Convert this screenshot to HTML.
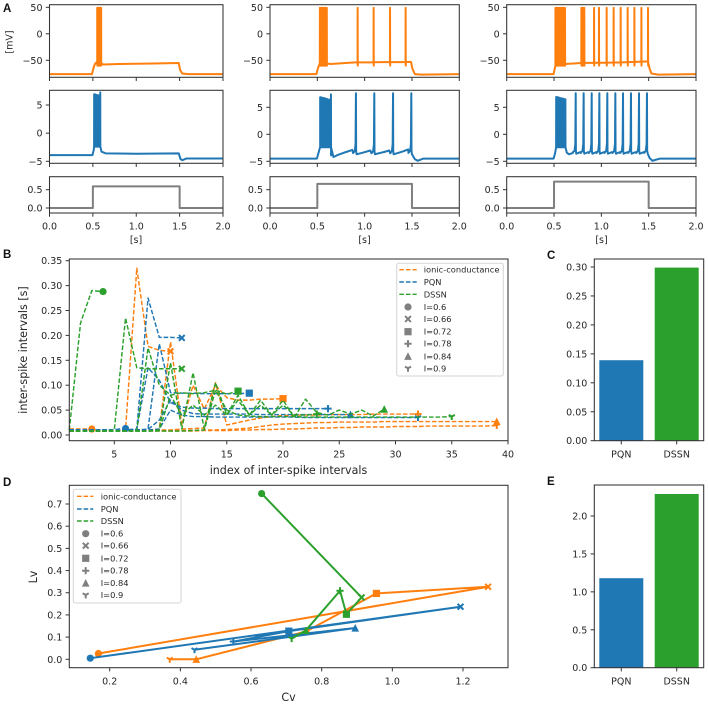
<!DOCTYPE html>
<html lang="en">
<head>
<meta charset="utf-8">
<title>Spiking responses and inter-spike interval comparison</title>
<style>
html,body{margin:0;padding:0;background:#fff;width:708px;height:705px;overflow:hidden}
svg{display:block;font-family:"DejaVu Sans","Liberation Sans",sans-serif;fill:#262626}
.panel{font-family:"Liberation Sans",sans-serif;font-weight:bold;font-size:11.5px;fill:#111}
.title{font-size:11.1px}
</style>
</head>
<body>
<svg id="figure" xmlns="http://www.w3.org/2000/svg" width="708" height="705" viewBox="0 0 708 705">
<rect width="708" height="705" fill="#fff"/>
<text class="panel" x="3" y="12">A</text>
<text class="panel" x="3" y="258">B</text>
<text class="panel" x="547" y="259">C</text>
<text class="panel" x="3" y="486">D</text>
<text class="panel" x="547" y="485">E</text>
<text class="title" transform="translate(12.5,42) rotate(-90)" text-anchor="middle" style="font-size:9.5px">[mV]</text>
<text class="title" x="136" y="243" text-anchor="middle" style="font-size:9.5px">[s]</text>
<text class="title" x="364.5" y="243" text-anchor="middle" style="font-size:9.5px">[s]</text>
<text class="title" x="601.5" y="243" text-anchor="middle" style="font-size:9.5px">[s]</text>
<text class="title" x="288.5" y="474" text-anchor="middle">index of inter-spike intervals</text>
<text class="title" transform="translate(27,350) rotate(-90)" text-anchor="middle">inter-spike intervals [s]</text>
<text class="title" x="288.5" y="701" text-anchor="middle">Cv</text>
<text class="title" transform="translate(37,577) rotate(-90)" text-anchor="middle">Lv</text>
</svg>
<script>
/* ---------- Panel A data: [time s, value] slow traces and spike times ---------- */
const orangeBase1 = [[0,-76],[0.49,-76],[0.505,-66],[0.52,-58],[0.55,-52],[0.6,-56],[0.62,-58],[0.8,-57],[1.2,-56],[1.49,-55],[1.505,-68],[1.53,-75],[1.6,-76],[2,-76]];
const orangeBase2 = [[0,-76],[0.49,-76],[0.505,-66],[0.525,-56],[0.6,-56],[0.64,-57],[0.9,-54],[1.2,-53.5],[1.49,-53],[1.505,-66],[1.53,-76],[1.6,-77],[2,-76]];
const orangeBase3 = [[0,-76],[0.495,-76],[0.51,-64],[0.525,-56],[0.62,-57],[0.8,-55],[1.2,-54],[1.49,-52],[1.51,-66],[1.53,-75],[1.6,-77],[2,-76]];
const orangeSpikes1 = [0.55,0.555,0.56,0.565,0.57,0.575,0.58,0.585,0.59,0.595];
const orangeSpikes2 = [0.527,0.533,0.539,0.545,0.551,0.557,0.563,0.569,0.575,0.581,0.587,0.593,0.6,0.926,1.095,1.268,1.433];
const orangeSpikes3 = [0.515,0.522,0.53,0.536,0.544,0.55,0.558,0.564,0.572,0.578,0.586,0.592,0.6,0.608,0.616,0.789,0.795,0.801,0.807,0.813,0.82,0.923,0.975,1.056,1.13,1.204,1.278,1.349,1.423,1.493];
const orangePeak = 49;
const orangeTrough = -60;

const blueBase1 = [[0,-3.9],[0.495,-3.9],[0.51,-3],[0.53,-2.4],[0.585,-2.4],[0.6,-3.3],[0.65,-3.6],[1.0,-3.65],[1.49,-3.6],[1.51,-4.6],[1.53,-4.8],[1.58,-4.5],[2,-4.5]];
const blueBase2 = [[0,-4.5],[0.495,-4.5],[0.51,-3.6],[0.53,-2.4],[0.63,-2.4],[0.645,-3.9],[0.67,-4.2],[0.72,-3.8],[0.8,-3.3],[0.87,-2.9],[0.915,-3.7],[0.98,-3.4],[1.06,-3],[1.108,-3.7],[1.2,-3.3],[1.26,-3],[1.306,-3.7],[1.4,-3.2],[1.46,-2.8],[1.5,-3.7],[1.53,-4.6],[1.56,-4.9],[1.62,-4.5],[2,-4.5]];
const blueBase3 = [[0,-4.5],[0.495,-4.5],[0.51,-3.6],[0.53,-2.4],[0.62,-2.4],[0.635,-3.4],[0.66,-3.7],[0.7,-3.3],[0.735,-3.6],[0.78,-3.3],[0.82,-3.6],[0.86,-3.3],[0.905,-3.6],[0.945,-3.3],[0.985,-3.6],[1.03,-3.3],[1.07,-3.6],[1.11,-3.3],[1.155,-3.6],[1.195,-3.3],[1.235,-3.6],[1.28,-3.3],[1.32,-3.6],[1.36,-3.3],[1.405,-3.6],[1.45,-3.3],[1.49,-3.6],[1.51,-4.4],[1.54,-4.9],[1.62,-4.5],[2,-4.5]];
const blueSpikes1 = [[0.515,6.9],[0.52,6.9],[0.525,6.85],[0.53,6.85],[0.535,6.8],[0.54,6.8],[0.545,6.75],[0.55,6.75],[0.555,6.7],[0.56,6.7],[0.565,6.7],[0.57,6.65],[0.585,7.25]];
const blueSpikes2 = [[0.53,6.85],[0.536,6.85],[0.542,6.8],[0.548,6.8],[0.554,6.75],[0.56,6.75],[0.566,6.7],[0.572,6.7],[0.578,6.65],[0.584,6.6],[0.59,6.6],[0.596,6.55],[0.602,6.5],[0.608,6.5],[0.614,6.45],[0.62,6.4],[0.626,6.4],[0.632,6.4],[0.644,7.4],[0.908,7.6],[1.102,7.6],[1.3,7.6],[1.493,7.6]];
const blueSpikes3 = [[0.523,6.9],[0.529,6.9],[0.535,6.85],[0.541,6.85],[0.547,6.8],[0.553,6.8],[0.559,6.75],[0.565,6.7],[0.571,6.7],[0.577,6.65],[0.583,6.65],[0.589,6.6],[0.595,6.6],[0.601,6.55],[0.607,6.5],[0.613,6.5],[0.62,6.5],[0.729,7.6],[0.813,7.6],[0.898,7.6],[0.979,7.6],[1.063,7.6],[1.148,7.6],[1.229,7.6],[1.313,7.6],[1.398,7.6],[1.482,7.6]];
const blueTrough = -2.4;

const stimulusLevels = [0.59, 0.66, 0.72];
const stimulusTimes = [0, 0.5, 0.5, 1.5, 1.5, 2];

const timeTicks = [0, 0.5, 1, 1.5, 2];
const timeTickLabels = ["0.0","0.5","1.0","1.5","2.0"];
const voltTicks = [-50, 0, 50];
const voltTickLabels = ["\u221250","0","50"];
const pqnTicks = [-5, 0, 5];
const pqnTickLabels = ["\u22125","0","5"];
const stimTicks = [0, 0.5];
const stimTickLabels = ["0.0","0.5"];

/* ---------- Panel B data: inter-spike intervals, index starts at 1 ---------- */
const isiOrange06 = [0.012,0.012,0.012];
const isiOrange066 = [0.01,0.01,0.01,0.01,0.01,0.011,0.335,0.178,0.17,0.168];
const isiOrange072 = [0.01,0.01,0.01,0.01,0.01,0.01,0.01,0.01,0.012,0.187,0.02,0.1,0.052,0.1,0.075,0.07,0.07,0.072,0.072,0.073];
const isiOrange078 = [0.01,0.01,0.01,0.01,0.01,0.01,0.01,0.01,0.01,0.01,0.012,0.013,0.014,0.105,0.02,0.025,0.03,0.034,0.037,0.039,0.04,0.04,0.04,0.041,0.041,0.041,0.041,0.042,0.042,0.042,0.042,0.042];
const isiOrange084 = [0.009,0.009,0.009,0.009,0.009,0.009,0.009,0.009,0.009,0.009,0.009,0.009,0.01,0.01,0.011,0.012,0.014,0.017,0.02,0.022,0.023,0.024,0.025,0.025,0.026,0.026,0.026,0.026,0.027,0.027,0.027,0.027,0.027,0.027,0.027,0.027,0.027,0.027,0.027];
const isiOrange09 = [0.008,0.008,0.008,0.008,0.008,0.008,0.008,0.008,0.008,0.008,0.008,0.008,0.009,0.009,0.009,0.01,0.01,0.011,0.011,0.012,0.012,0.013,0.014,0.014,0.015,0.015,0.016,0.016,0.016,0.017,0.017,0.017,0.018,0.018,0.018,0.018,0.018,0.018,0.019];

const isiBlue06 = [0.01,0.01,0.01,0.01,0.011,0.013];
const isiBlue066 = [0.01,0.01,0.01,0.01,0.01,0.01,0.012,0.275,0.196,0.196,0.195];
const isiBlue072 = [0.01,0.01,0.01,0.01,0.01,0.01,0.01,0.012,0.183,0.085,0.084,0.084,0.083,0.083,0.083,0.083,0.084];
const isiBlue078 = [0.01,0.01,0.01,0.01,0.01,0.01,0.012,0.135,0.11,0.065,0.056,0.054,0.054,0.053,0.053,0.053,0.053,0.053,0.053,0.053,0.053,0.053,0.053,0.053];
const isiBlue084 = [0.01,0.01,0.01,0.01,0.01,0.01,0.01,0.011,0.03,0.07,0.05,0.043,0.042,0.042,0.042,0.042,0.042,0.041,0.041,0.041,0.041,0.041,0.041,0.041,0.041,0.041];
const isiBlue09 = [0.01,0.01,0.01,0.01,0.01,0.01,0.01,0.01,0.012,0.05,0.04,0.037,0.037,0.036,0.036,0.036,0.036,0.036,0.036,0.036,0.036,0.035,0.035,0.035,0.035,0.035,0.035,0.035,0.035,0.035,0.035,0.035];

const isiGreen06 = [0.01,0.225,0.29,0.288];
const isiGreen066 = [0.008,0.008,0.008,0.008,0.01,0.235,0.135,0.133,0.133,0.133,0.133];
const isiGreen072 = [0.008,0.008,0.008,0.008,0.008,0.008,0.009,0.175,0.1,0.08,0.085,0.083,0.085,0.09,0.082,0.088];
const isiGreen078 = [0.008,0.008,0.008,0.008,0.008,0.008,0.008,0.008,0.01,0.145,0.012,0.125,0.012,0.105,0.04,0.08,0.04,0.07,0.04,0.06,0.04,0.04,0.042];
const isiGreen084 = [0.008,0.008,0.008,0.008,0.008,0.008,0.008,0.008,0.01,0.08,0.04,0.06,0.04,0.06,0.04,0.07,0.04,0.06,0.04,0.07,0.035,0.072,0.045,0.04,0.05,0.042,0.05,0.038,0.052];
const isiGreen09 = [0.008,0.008,0.008,0.008,0.008,0.008,0.008,0.008,0.008,0.008,0.008,0.009,0.01,0.09,0.05,0.04,0.038,0.037,0.037,0.037,0.037,0.036,0.036,0.036,0.036,0.036,0.036,0.036,0.036,0.036,0.036,0.036,0.036,0.036,0.037];

const isiXTicks = [5,10,15,20,25,30,35,40];
const isiXTickLabels = ["5","10","15","20","25","30","35","40"];
const isiYTicks = [0,0.05,0.1,0.15,0.2,0.25,0.3,0.35];
const isiYTickLabels = ["0.00","0.05","0.10","0.15","0.20","0.25","0.30","0.35"];

/* ---------- Panel C / E data ---------- */
const barCategories = ["PQN","DSSN"];
const cvDiffValues = [0.139,0.299];
const lvDiffValues = [1.18,2.29];
const cTicks = [0,0.05,0.1,0.15,0.2,0.25,0.3];
const cTickLabels = ["0.00","0.05","0.10","0.15","0.20","0.25","0.30"];
const eTicks = [0,0.5,1,1.5,2];
const eTickLabels = ["0.0","0.5","1.0","1.5","2.0"];

/* ---------- Panel D data: one entry per current ---------- */
const cvOrange = [0.168,1.271,0.955,0.755,0.445,0.37];
const lvOrange = [0.026,0.327,0.297,0.125,0.0,0.0];
const cvBlue = [0.145,1.193,0.707,0.55,0.895,0.44];
const lvBlue = [0.005,0.237,0.127,0.08,0.141,0.043];
const cvGreen = [0.63,0.913,0.87,0.852,0.755,0.715];
const lvGreen = [0.747,0.279,0.203,0.309,0.13,0.093];
const cvTicks = [0.2,0.4,0.6,0.8,1,1.2];
const cvTickLabels = ["0.2","0.4","0.6","0.8","1.0","1.2"];
const lvTicks = [0,0.1,0.2,0.3,0.4,0.5,0.6,0.7];
const lvTickLabels = ["0.0","0.1","0.2","0.3","0.4","0.5","0.6","0.7"];

const legendModels = ["ionic-conductance","PQN","DSSN"];
const legendCurrents = ["I=0.6","I=0.66","I=0.72","I=0.78","I=0.84","I=0.9"];
const markerKinds = ["circle","x","square","plus","triangle","y"];

/* ---------- Drawing ---------- */
const NS = "http://www.w3.org/2000/svg";
const svg = document.getElementById("figure");
const ORANGE = "#ff7f0e", BLUE = "#1f77b4", GREEN = "#2ca02c", GRAY = "#7f7f7f", INK = "#262626", SPINE = "#333";

function make(tag, attrs, parent) {
  const node = document.createElementNS(NS, tag);
  for (const k in attrs) node.setAttribute(k, attrs[k]);
  (parent || svg).appendChild(node);
  return node;
}
function scale(d0, d1, r0, r1) {
  return v => r0 + (v - d0) * (r1 - r0) / (d1 - d0);
}
function line(pointsPx, color, width, dash, name, parent) {
  const attrs = {points: pointsPx.map(p => p[0].toFixed(2) + "," + p[1].toFixed(2)).join(" "), fill: "none", stroke: color, "stroke-width": width, "stroke-linejoin": "round"};
  if (dash) attrs["stroke-dasharray"] = dash;
  const node = make("polyline", attrs, parent);
  
  
  return node;
}
function label(txt, x, y, anchor, size, name, parent) {
  const node = make("text", {x: x, y: y, "text-anchor": anchor, "font-size": size}, parent);
  node.textContent = txt;
  
  
  return node;
}
function axes(name, box, xs, ys, xTicks, xLabels, yTicks, yLabels) {
  const group = make("g", {});
  
  
  const frame = make("rect", {x: box.l, y: box.t, width: box.r - box.l, height: box.b - box.t, fill: "none", stroke: SPINE, "stroke-width": 1.05}, group);
  
  
  xTicks.forEach((t, i) => {
    const x = xs(t);
    const tick = make("line", {x1: x, x2: x, y1: box.b, y2: box.b + 3.7, stroke: SPINE, "stroke-width": 1}, group);
    
    
    if (xLabels) label(xLabels[i], x, box.b + 16.6, "middle", 9.5, name + '-x-tick-label', group);
  });
  yTicks.forEach((t, i) => {
    const y = ys(t);
    const tick = make("line", {x1: box.l - 3.7, x2: box.l, y1: y, y2: y, stroke: SPINE, "stroke-width": 1}, group);
    
    
    label(yLabels[i], box.l - 7, y + 3.5, "end", 9.5, name + '-y-tick-label', group);
  });
}
function marker(kind, x, y, color, name, parent) {
  const r = 3.6;
  const a = 2.9;
  let node;
  if (kind === "circle") {
    node = make("circle", {cx: x, cy: y, r: r, fill: color}, parent);
  } else if (kind === "square") {
    node = make("rect", {x: x - r, y: y - r, width: 2 * r, height: 2 * r, fill: color}, parent);
  } else if (kind === "triangle") {
    node = make("polygon", {points: [x, y - r - 0.4, x + r + 0.2, y + r, x - r - 0.2, y + r].join(" "), fill: color}, parent);
  } else {
    let d;
    if (kind === "x") d = `M${x-a} ${y-a}L${x+a} ${y+a}M${x-a} ${y+a}L${x+a} ${y-a}`;
    else if (kind === "plus") d = `M${x-r} ${y}L${x+r} ${y}M${x} ${y-r}L${x} ${y+r}`;
    else d = `M${x} ${y}L${x} ${y+3.4}M${x} ${y}L${x-3} ${y-1.7}M${x} ${y}L${x+3} ${y-1.7}`;
    node = make("path", {d: d, fill: "none", stroke: color, "stroke-width": 2}, parent);
  }
  
  
  return node;
}
function baseAt(base, t) {
  for (let i = 1; i < base.length; i++) {
    if (t <= base[i][0]) {
      const a = base[i - 1], b = base[i];
      return a[1] + (b[1] - a[1]) * (t - a[0]) / (b[0] - a[0]);
    }
  }
  return base[base.length - 1][1];
}
function orangeTrace(base, spikes) {
  const pts = base.slice();
  spikes.forEach(s => {
    pts.push([s - 0.0006, baseAt(base, s)], [s, orangePeak], [s + 0.0012, orangeTrough], [s + 0.0024, baseAt(base, s)]);
  });
  return pts.sort((a, b) => a[0] - b[0]);
}
function blueTrace(base, spikes) {
  const pts = base.slice();
  spikes.forEach(p => {
    const s = p[0], b = baseAt(base, s);
    if (p[1] < 7.05 || s < 0.66) {
      pts.push([s - 0.001, blueTrough], [s, p[1]], [s + 0.001, blueTrough]);
    } else {
      pts.push([s - 0.03, b + 0.1], [s - 0.012, b + 0.5], [s - 0.004, b + 1.8], [s, p[1]], [s + 0.002, b + 0.5]);
    }
  });
  return pts.sort((a, b) => a[0] - b[0]);
}

/* Panel A */
const colBoxes = [{l: 49.5, r: 223}, {l: 270, r: 459.3}, {l: 506.7, r: 696}];
const blueY = [scale(-5, 5, 161.3, 105), scale(-5, 5, 161.3, 107.3), scale(-5, 5, 161.3, 107.3)];
const orangeBases = [orangeBase1, orangeBase2, orangeBase3];
const orangeSpikeSets = [orangeSpikes1, orangeSpikes2, orangeSpikes3];
const blueBases = [blueBase1, blueBase2, blueBase3];
const blueSpikeSets = [blueSpikes1, blueSpikes2, blueSpikes3];

colBoxes.forEach((c, i) => {
  const xs = scale(0, 2, c.l, c.r);
  const vy = scale(-50, 50, 60.3, 7.3);
  line(orangeTrace(orangeBases[i], orangeSpikeSets[i]).map(p => [xs(p[0]), vy(p[1])]), ORANGE, 2, null, 'ionic-voltage-trace-' + (i + 1));
  axes('ionic-voltage-' + (i + 1), {l: c.l, r: c.r, t: 4.7, b: 77.3}, xs, vy, timeTicks, null, voltTicks, voltTickLabels);

  const by = blueY[i];
  line(blueTrace(blueBases[i], blueSpikeSets[i]).map(p => [xs(p[0]), by(p[1])]), BLUE, 2, null, 'pqn-voltage-trace-' + (i + 1));
  axes('pqn-voltage-' + (i + 1), {l: c.l, r: c.r, t: 90.3, b: 163.3}, xs, by, timeTicks, null, pqnTicks, pqnTickLabels);

  const sy = scale(0, 0.5, 208, 189.7);
  const level = stimulusLevels[i];
  const stim = [0, 0, level, level, 0, 0];
  line(stimulusTimes.map((t, k) => [xs(t), sy(stim[k])]), GRAY, 2, null, 'stimulus-trace-' + (i + 1));
  axes('stimulus-' + (i + 1), {l: c.l, r: c.r, t: 176.7, b: 213}, xs, sy, timeTicks, timeTickLabels, stimTicks, stimTickLabels);
});

/* Panel B */
const bBox = {l: 69.3, r: 508, t: 259, b: 440.7};
const bX = scale(1, 40, bBox.l, bBox.r);
const bY = scale(0, 0.35, 435, 260.7);
const orangeIsi = [isiOrange06, isiOrange066, isiOrange072, isiOrange078, isiOrange084, isiOrange09];
const blueIsi = [isiBlue06, isiBlue066, isiBlue072, isiBlue078, isiBlue084, isiBlue09];
const greenIsi = [isiGreen06, isiGreen066, isiGreen072, isiGreen078, isiGreen084, isiGreen09];
[[orangeIsi, ORANGE, 'ionic'], [blueIsi, BLUE, 'pqn'], [greenIsi, GREEN, 'dssn']].forEach(model => {
  model[0].forEach((series, k) => {
    const pts = series.map((v, j) => [bX(j + 1), bY(v)]);
    line(pts, model[1], 1.45, "4.6 2", model[2] + '-isi-line-' + markerKinds[k]);
    const last = pts[pts.length - 1];
    marker(markerKinds[k], last[0], last[1], model[1], model[2] + '-isi-end-' + markerKinds[k]);
  });
});
axes('isi', bBox, bX, bY, isiXTicks, isiXTickLabels, isiYTicks, isiYTickLabels);

function legend(name, x0, y0, x1, y1, rows, handleL, handleR, markX, textX) {
  const g = make("g", {});
  
  
  const frame = make("rect", {x: x0, y: y0, width: x1 - x0, height: y1 - y0, rx: 2, fill: "#fff", "fill-opacity": 0.85, stroke: "#d5d5d5", "stroke-width": 1}, g);
  
  
  const colors = [ORANGE, BLUE, GREEN];
  legendModels.forEach((m, i) => {
    line([[handleL, rows[i]], [handleR, rows[i]]], colors[i], 1.45, "4.6 2", name + '-handle-' + m, g);
    label(m, textX, rows[i] + 3, "start", 8.3, name + '-entry-' + m, g);
  });
  legendCurrents.forEach((c, i) => {
    marker(markerKinds[i], markX, rows[i + 3], GRAY, name + '-marker-' + markerKinds[i], g);
    label(c, textX, rows[i + 3] + 3, "start", 8.3, name + '-entry-' + markerKinds[i], g);
  });
}
legend('isi-legend', 396.7, 263.3, 503.3, 376, [269.7,282,294.3,307,319,331.7,343.7,356.3,368.3], 399.3, 416.7, 408, 423.7);

/* Panel C and E */
function bars(name, box, ys, values, ticks, tickLabels) {
  const slotX = scale(0, 1, 621.3, 676.7);
  const barW = 44;
  const colors = [BLUE, GREEN];
  values.forEach((v, i) => {
    const cx = slotX(i);
    const rect = make("rect", {x: cx - barW / 2, y: ys(v), width: barW, height: ys(0) - ys(v), fill: colors[i]});
    
    
  });
  axes(name, box, slotX, ys, [0, 1], barCategories, ticks, tickLabels);
}
bars('cv-difference', {l: 594.3, r: 703.7, t: 259, b: 440.7}, scale(0, 0.3, 440.7, 267), cvDiffValues, cTicks, cTickLabels);
bars('lv-difference', {l: 594.3, r: 703.7, t: 485, b: 667.7}, scale(0, 2, 667.7, 516), lvDiffValues, eTicks, eTickLabels);

/* Panel D */
const dBox = {l: 69.3, r: 508, t: 485.3, b: 667.7};
const dX = scale(0.2, 1.2, 109.7, 463);
const dY = scale(0, 0.7, 659.3, 504);
[[cvOrange, lvOrange, ORANGE, 'ionic'], [cvBlue, lvBlue, BLUE, 'pqn'], [cvGreen, lvGreen, GREEN, 'dssn']].forEach(m => {
  const pts = m[0].map((v, i) => [dX(v), dY(m[1][i])]);
  line(pts, m[2], 2, null, m[3] + '-cv-lv-line');
  pts.forEach((p, i) => marker(markerKinds[i], p[0], p[1], m[2], m[3] + '-cv-lv-point-' + markerKinds[i]));
});
axes('cv-lv', dBox, dX, dY, cvTicks, cvTickLabels, lvTicks, lvTickLabels);
legend('cv-lv-legend', 73.3, 489.3, 181, 603, [496.3,509,521,533.7,545.7,558.3,570.7,583,595], 77, 93.3, 85.7, 100.7);
</script>
</body>
</html>
